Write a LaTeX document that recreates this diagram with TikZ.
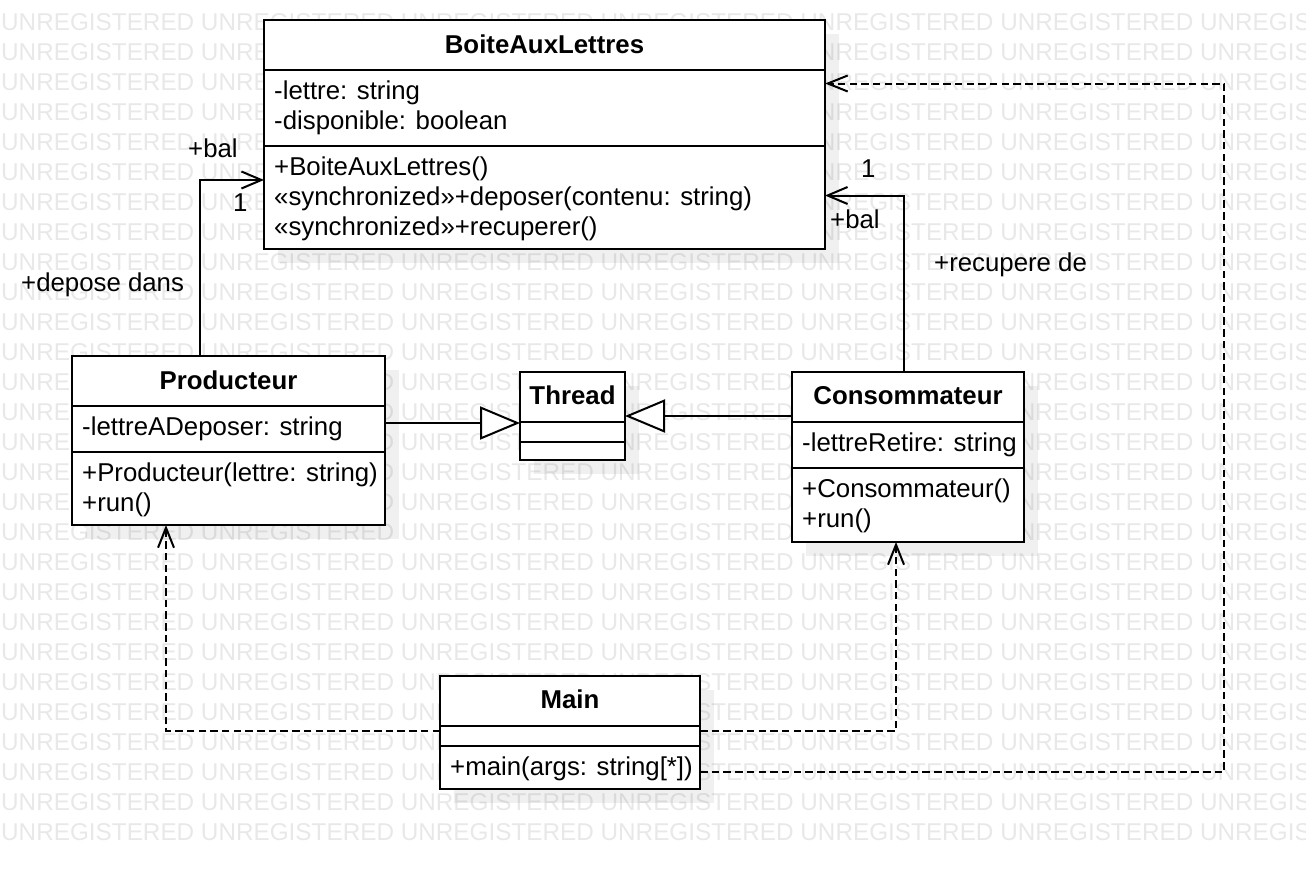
\documentclass[tikz,border=0pt]{standalone}
\usepackage{fontspec}
\setmainfont{Liberation Sans}
\usetikzlibrary{arrows.meta,shadows}
\definecolor{wmgray}{HTML}{E8E8E8}
\tikzset{
  classbox/.style={draw, line width=2pt, fill=white, inner sep=0pt, outer sep=0pt,
    drop shadow={shadow xshift=14pt, shadow yshift=-14pt, fill=black, opacity=0.06}},
  sep/.style={line width=2pt},
  assoc/.style={line width=2pt, -{Straight Barb[length=20pt,width=17pt,line width=2pt]}},
  gen/.style={line width=2pt, -{Triangle[length=40pt,width=33pt,fill=white,line width=2pt]}},
  dep/.style={line width=2pt, dash pattern=on 7.5pt off 4.2pt, -{Straight Barb[length=20pt,width=16pt,line width=2pt]}},
  txt/.style={anchor=base west, inner sep=0pt, font=\fontsize{25.8}{30}\selectfont},
  ttl/.style={anchor=base, inner sep=0pt, font=\fontsize{25.8}{30}\selectfont\bfseries},
  wm/.style={anchor=base west, inner sep=0pt, text=wmgray, font=\fontsize{24.3}{30}\selectfont}
}
\begin{document}
\begin{tikzpicture}[x=1pt,y=-1pt]
\path[use as bounding box] (0,0) rectangle (1306,870);
% watermark
\begin{scope}
\clip (0,0) rectangle (1306,870);
\foreach \k in {0,...,27}{
  \node[wm] (wm\k) at (1,30+30*\k) {UNREGISTERED UNREGISTERED UNREGISTERED UNREGISTERED UNREGISTERED UNREGISTERED UNREGISTERED};
}
\end{scope}
% class boxes
\node[classbox, minimum width=561pt, minimum height=229pt] (bal) at (544.5,134.5) {};
\node[classbox, minimum width=313pt, minimum height=169pt] (prod) at (228.5,440.5) {};
\node[classbox, minimum width=105pt, minimum height=88pt] (thread) at (572.5,416) {};
\node[classbox, minimum width=232pt, minimum height=170pt] (cons) at (908,457) {};
\node[classbox, minimum width=260pt, minimum height=113pt] (main) at (570,732.5) {};
% compartments
\draw[sep] ([yshift=-50pt]bal.north west) -- ([yshift=-50pt]bal.north east);
\draw[sep] ([yshift=-126pt]bal.north west) -- ([yshift=-126pt]bal.north east);
\draw[sep] ([yshift=-50pt]prod.north west) -- ([yshift=-50pt]prod.north east);
\draw[sep] ([yshift=-96pt]prod.north west) -- ([yshift=-96pt]prod.north east);
\draw[sep] ([yshift=-50pt]thread.north west) -- ([yshift=-50pt]thread.north east);
\draw[sep] ([yshift=-69.5pt]thread.north west) -- ([yshift=-69.5pt]thread.north east);
\draw[sep] ([yshift=-50pt]cons.north west) -- ([yshift=-50pt]cons.north east);
\draw[sep] ([yshift=-96pt]cons.north west) -- ([yshift=-96pt]cons.north east);
\draw[sep] ([yshift=-50pt]main.north west) -- ([yshift=-50pt]main.north east);
\draw[sep] ([yshift=-70pt]main.north west) -- ([yshift=-70pt]main.north east);
% texts
\node[ttl] (balT) at (544.5,53) {BoiteAuxLettres};
\node[txt] (balA1) at (274,99) {-lettre: string};
\node[txt] (balA2) at (274,129) {-disponible: boolean};
\node[txt] (balM1) at (274,175) {+BoiteAuxLettres()};
\node[txt] (balM2) at (274,205) {«synchronized»+deposer(contenu: string)};
\node[txt] (balM3) at (274,235) {«synchronized»+recuperer()};
\node[ttl] (prodT) at (228.5,389) {Producteur};
\node[txt] (prodA1) at (82,435) {-lettreADeposer: string};
\node[txt] (prodM1) at (82,481) {+Producteur(lettre: string)};
\node[txt] (prodM2) at (82,511) {+run()};
\node[ttl] (threadT) at (572.5,404.5) {Thread};
\node[ttl] (consT) at (908,404.5) {Consommateur};
\node[txt] (consA1) at (802,451) {-lettreRetire: string};
\node[txt] (consM1) at (802,497) {+Consommateur()};
\node[txt] (consM2) at (802,527) {+run()};
\node[ttl] (mainT) at (570,708.5) {Main};
\node[txt] (mainM1) at (450,775) {+main(args: string[*])};
% connectors
\draw[assoc] ([xshift=-28.5pt]prod.north) |- ([yshift=-45.5pt]bal.west);
\draw[assoc] ([xshift=-4pt]cons.north) |- ([yshift=-61pt]bal.east);
\draw[gen] ([yshift=17.5pt]prod.east) -- ([yshift=-7pt]thread.west);
\draw[gen] ([yshift=41pt]cons.west) -- (thread.east);
\draw[dep] ([yshift=1.5pt]main.west) -| ([xshift=-62.5pt]prod.south);
\draw[dep] ([yshift=1.5pt]main.east) -| ([xshift=-12pt]cons.south);
\coordinate (corner) at (1224,83.5);
\draw[dep] ([yshift=-39.5pt]main.east) -| (corner) -- ([yshift=51pt]bal.east);
% labels
\node[txt] (l1) at (188,157) {+bal};
\node[txt] (l2) at (233,211) {1};
\node[txt] (l3) at (21,291) {+depose dans};
\node[txt] (l4) at (861,177) {1};
\node[txt] (l5) at (830,228) {+bal};
\node[txt] (l6) at (934,271) {+recupere de};
\end{tikzpicture}
\end{document}
